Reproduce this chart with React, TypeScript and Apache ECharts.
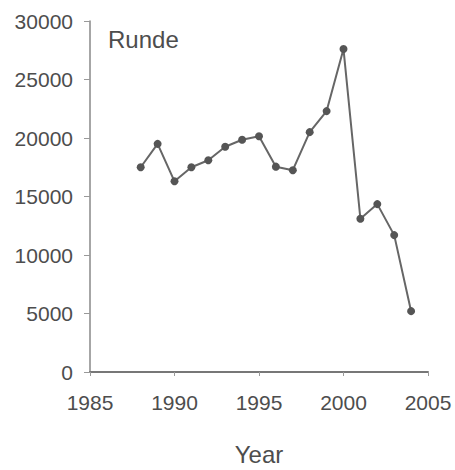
import React, { useEffect, useRef } from "react";
import * as echarts from "echarts";

const years = [1988, 1989, 1990, 1991, 1992, 1993, 1994, 1995, 1996, 1997, 1998, 1999, 2000, 2001, 2002, 2003, 2004];
const counts = [17500, 19500, 16300, 17500, 18100, 19250, 19850, 20150, 17550, 17250, 20500, 22300, 27600, 13100, 14350, 11700, 5200];
const chartTitle = "Runde";
const xAxisName = "Year";

export default function App() {
  const ref = useRef<HTMLDivElement>(null);
  useEffect(() => {
    if (!ref.current) return;
    const chart = echarts.init(ref.current, null, { renderer: "svg" });
    const font = "Liberation Sans, Arial, sans-serif";
    chart.setOption({
      animation: false,
      backgroundColor: "#ffffff",
      grid: { left: 90, top: 21, right: 27, bottom: 98, outerBoundsMode: "none", containLabel: false },
      graphic: [
        {
          type: "text",
          left: 108,
          top: 27,
          style: { text: chartTitle, fontSize: 24, fontFamily: font, fill: "#4d4d4d" },
        },
      ],
      xAxis: {
        type: "value",
        min: 1985,
        max: 2005,
        interval: 5,
        name: xAxisName,
        nameLocation: "middle",
        nameGap: 70,
        nameTextStyle: { fontSize: 24, fontFamily: font, color: "#4d4d4d" },
        splitLine: { show: false },
        axisLine: { show: true, lineStyle: { color: "#777777", width: 2 } },
        axisTick: { show: true, length: 4, lineStyle: { color: "#999999" } },
        axisLabel: {
          fontSize: 21,
          fontFamily: font,
          color: "#4d4d4d",
          margin: 20,
          formatter: (v: number) => String(v),
        },
      },
      yAxis: {
        type: "value",
        min: 0,
        max: 30000,
        interval: 5000,
        splitLine: { show: false },
        axisLine: { show: true, lineStyle: { color: "#888888", width: 1.5 } },
        axisTick: { show: true, length: 6, lineStyle: { color: "#999999" } },
        axisLabel: {
          fontSize: 21,
          fontFamily: font,
          color: "#4d4d4d",
          margin: 17,
          formatter: (v: number) => String(v),
        },
      },
      series: [
        {
          type: "line",
          data: years.map((y, i) => [y, counts[i]]),
          symbol: "circle",
          symbolSize: 8,
          itemStyle: { color: "#555555" },
          lineStyle: { color: "#666666", width: 2 },
        },
      ],
    });
    return () => chart.dispose();
  }, []);
  return <div ref={ref} style={{ width: 455, height: 470, position: "absolute", left: 0, top: 0 }} />;
}
